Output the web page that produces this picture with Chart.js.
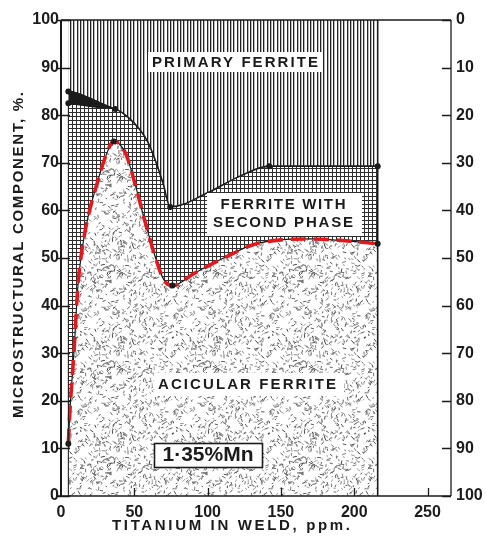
<!DOCTYPE html>
<html>
<head>
<meta charset="utf-8">
<script src="https://cdn.jsdelivr.net/npm/chart.js@4.4.1/dist/chart.umd.min.js"></script>
<style>
  html, body { margin: 0; padding: 0; background: #fff; }
  #wrap { width: 486px; height: 536px; }
</style>
</head>
<body>
<div id="wrap"><canvas id="chart" width="486" height="536"></canvas></div>
<script>
// Weld metal microstructure vs titanium content, 1.35 % Mn

// tick labels
const xTickLabels = [0, 50, 100, 150, 200, 250];
const yTickLabels = [0, 10, 20, 30, 40, 50, 60, 70, 80, 90, 100];

// extent of the measured band (ppm Ti)
const regionTi = [5, 216];
const primaryTopPct = [100, 100];

// acicular ferrite / ferrite-with-second-phase boundary
const acicularTi  = [5, 6, 9, 11.5, 14, 18, 24, 30, 36, 44, 51, 57, 63.5, 70, 76, 91, 113, 131, 150, 170, 195, 216];
const acicularPct = [11, 17.4, 31, 44, 51, 58, 65, 71, 74.5, 72, 65, 58, 51, 45.5, 44.2, 46.8, 50.3, 52.8, 53.8, 54, 53.6, 53];

// ferrite-with-second-phase / primary ferrite boundary
const secondTopTi  = [5, 15, 25, 37, 46, 53.7, 59, 63.4, 69.6, 74.5, 100, 122, 142, 216];
const secondTopPct = [82.5, 82.1, 81.7, 81.3, 79.5, 77, 74.5, 71.3, 65.7, 60.7, 63.7, 67.2, 69.3, 69.3];

// dark wedge at low Ti
const wedgeTi  = [5, 12, 20, 28, 37];
const wedgePct = [85.2, 84.6, 83.6, 82.5, 81.3];

// measured points
const markerTi  = [5, 5, 37, 74.5, 142, 216, 5, 36, 76, 216];
const markerPct = [85, 82.5, 81.3, 60.7, 69.3, 69.3, 11, 74.5, 44.2, 53];

const ink = '#1b1b1b';
const red = '#e3171c';
const FONT = "'Liberation Sans', Arial, Helvetica, sans-serif";

const pts = (xs, ys) => xs.map((x, i) => ({ x: x, y: ys[i] }));

// --- fill textures ---
function makePattern(w, h, paint) {
    const c = document.createElement('canvas');
    c.width = w; c.height = h;
    const g = c.getContext('2d');
    g.fillStyle = '#fff';
    g.fillRect(0, 0, w, h);
    paint(g, w, h);
    return document.getElementById('chart').getContext('2d').createPattern(c, 'repeat');
}

const hatch = makePattern(10, 1, g => {
    g.fillStyle = '#222';
    [0, 3, 7].forEach(x => g.fillRect(x, 0, 1, 1));
    g.fillStyle = '#b8b8b8';
    [1, 4, 8].forEach(x => g.fillRect(x, 0, 1, 1));
});

const grid = makePattern(4, 4, g => {
    g.fillStyle = '#2e2e2e';
    g.fillRect(0, 0, 4, 1);
    g.fillRect(0, 0, 1, 4);
});

function mulberry32(a) {
    return function() {
        a |= 0; a = a + 0x6D2B79F5 | 0;
        let t = Math.imul(a ^ a >>> 15, 1 | a);
        t = t + Math.imul(t ^ t >>> 7, 61 | t) ^ t;
        return ((t ^ t >>> 14) >>> 0) / 4294967296;
    };
}

const speckle = makePattern(96, 96, (g, w, h) => {
    const rnd = mulberry32(1979);
    g.lineWidth = 1;
    g.lineCap = 'butt';
    for (let i = 0; i < 620; i++) {
        const x = rnd() * w, y = rnd() * h;
        const a = rnd() * Math.PI;
        const len = 1.5 + rnd() * 2.8;
        const shade = Math.floor(70 + rnd() * 100);
        g.strokeStyle = `rgb(${shade},${shade},${shade})`;
        const dx = Math.cos(a) * len / 2, dy = Math.sin(a) * len / 2;
        for (const ox of [-w, 0, w]) {
            for (const oy of [-h, 0, h]) {
                g.beginPath();
                g.moveTo(x + ox - dx, y + oy - dy);
                g.lineTo(x + ox + dx, y + oy + dy);
                g.stroke();
            }
        }
    }
});

// --- frame, inward ticks, region labels, axis titles ---
const framePlugin = {
    id: 'frame',
    afterDatasetsDraw(chart) {
        const { ctx, chartArea: a, scales } = chart;
        ctx.save();
        ctx.strokeStyle = ink;
        ctx.lineWidth = 1.3;
        ctx.beginPath();
        ctx.moveTo(a.left, a.top); ctx.lineTo(a.right, a.top);
        ctx.moveTo(a.right, a.top); ctx.lineTo(a.right, a.bottom);
        ctx.moveTo(a.left - 4, a.bottom); ctx.lineTo(a.right, a.bottom);
        ctx.stroke();
        ctx.lineWidth = 2;
        ctx.beginPath();
        ctx.moveTo(a.left, a.top); ctx.lineTo(a.left, a.bottom);
        ctx.stroke();

        ctx.lineWidth = 1.3;
        ctx.beginPath();
        scales.y.ticks.forEach(t => {
            const py = Math.round(scales.y.getPixelForValue(t.value)) + 0.5;
            ctx.moveTo(a.left - 3, py); ctx.lineTo(a.left + 9, py);
        });
        scales.y2.ticks.forEach(t => {
            const py = Math.round(scales.y2.getPixelForValue(t.value)) + 0.5;
            ctx.moveTo(a.right - 9, py); ctx.lineTo(a.right, py);
        });
        scales.x.ticks.forEach(t => {
            if (t.value === 0) return;
            const px = Math.round(scales.x.getPixelForValue(t.value)) + 0.5;
            ctx.moveTo(px, a.bottom); ctx.lineTo(px, a.bottom - 8);
        });
        ctx.stroke();
        ctx.restore();
    }
};

// spreads letters so a string covers a given width
function spacedText(ctx, text, cx, cy, width) {
    ctx.letterSpacing = '0px';
    const natural = ctx.measureText(text).width;
    const sp = Math.max(0, (width - natural) / (text.length - 1));
    ctx.letterSpacing = `${sp}px`;
    ctx.fillText(text, cx + sp / 2, cy);
    ctx.letterSpacing = '0px';
}

const regionLabels = [
    { box: [148, 52, 174, 20], lines: ['PRIMARY FERRITE'], x: 235, y: [62.5], w: [166], size: 15 },
    { box: [207, 193, 155, 43], lines: ['FERRITE WITH', 'SECOND PHASE'], x: 283, y: [205, 223], w: [125, 140], size: 15 },
    { box: [154, 373, 190, 23], lines: ['ACICULAR FERRITE'], x: 247, y: [385], w: [178], size: 15 },
    { box: [154, 443, 108, 24], lines: ['1·35%Mn'], x: 208, y: [455.5], w: [0], size: 21, border: true }
];

const labelPlugin = {
    id: 'labels',
    afterDatasetsDraw(chart) {
        const ctx = chart.ctx;
        ctx.save();
        regionLabels.forEach(l => {
            const [bx, by, bw, bh] = l.box;
            ctx.fillStyle = '#fff';
            ctx.fillRect(bx, by, bw, bh);
            if (l.border) {
                ctx.strokeStyle = ink;
                ctx.lineWidth = 1.6;
                ctx.strokeRect(bx + 0.5, by + 0.5, bw, bh);
            }
            ctx.fillStyle = ink;
            ctx.font = `bold ${l.size}px ${FONT}`;
            ctx.textAlign = 'center';
            ctx.textBaseline = 'middle';
            l.lines.forEach((s, i) => spacedText(ctx, s, l.x, l.y[i], l.w[i]));
        });
        ctx.restore();
    },
    afterDraw(chart) {
        const { ctx, chartArea: a } = chart;
        ctx.save();
        ctx.fillStyle = ink;
        ctx.font = `bold 15px ${FONT}`;
        ctx.textAlign = 'center';
        ctx.textBaseline = 'middle';
        spacedText(ctx, 'TITANIUM IN WELD, ppm.', 231, 526, 238);
        ctx.translate(19, 255);
        ctx.rotate(-Math.PI / 2);
        spacedText(ctx, 'MICROSTRUCTURAL COMPONENT, %.', 0, 0, 326);
        ctx.restore();
    }
};

const tickFont = { family: FONT, size: 16, weight: 'bold' };

new Chart(document.getElementById('chart'), {
    type: 'line',
    data: {
        datasets: [
            { label: 'Primary ferrite', data: pts(regionTi, primaryTopPct), fill: 'origin',
              backgroundColor: hatch, borderWidth: 0, pointRadius: 0, order: 6 },
            { label: 'Wedge', data: pts(wedgeTi, wedgePct), fill: 'origin', backgroundColor: ink,
              borderColor: ink, borderWidth: 1, pointRadius: 0, cubicInterpolationMode: 'monotone', order: 5 },
            { label: 'Ferrite with second phase', data: pts(secondTopTi, secondTopPct), fill: 'origin',
              backgroundColor: grid, borderColor: ink, borderWidth: 1.6, pointRadius: 0,
              cubicInterpolationMode: 'monotone', order: 4 },
            { label: 'Acicular ferrite', data: pts(acicularTi, acicularPct), fill: 'origin',
              backgroundColor: speckle, borderColor: ink, borderWidth: 1.2, pointRadius: 0,
              cubicInterpolationMode: 'monotone', order: 3 },
            { label: 'Acicular boundary', data: pts(acicularTi, acicularPct), fill: false,
              borderColor: red, borderWidth: 3.6, borderDash: [15, 8], pointRadius: 0,
              cubicInterpolationMode: 'monotone', order: 2 },
            { label: 'Left edge', data: pts([regionTi[0], regionTi[0]], [0, secondTopPct[0]]), fill: false,
              borderColor: ink, borderWidth: 1, pointRadius: 0, order: 1 },
            { label: 'Right edge', data: pts([regionTi[1], regionTi[1]], [0, 100]), fill: false,
              borderColor: ink, borderWidth: 1.6, pointRadius: 0, order: 1 },
            { label: 'Measured', data: pts(markerTi, markerPct), showLine: false,
              pointRadius: 3, pointBackgroundColor: ink, pointBorderWidth: 0, order: 0 }
        ]
    },
    options: {
        responsive: false,
        animation: false,
        events: [],
        layout: { padding: { top: 20, left: 0, right: 0, bottom: 0 } },
        plugins: { legend: { display: false }, tooltip: { enabled: false } },
        scales: {
            x: {
                type: 'linear', min: 0, max: 266,
                afterBuildTicks: s => { s.ticks = xTickLabels.map(v => ({ value: v })); },
                afterFit: s => { s.height = 40; },
                grid: { display: false, drawTicks: false },
                border: { display: false },
                ticks: { font: tickFont, color: ink, padding: 7, maxRotation: 0 }
            },
            y: {
                position: 'left', min: 0, max: 100,
                afterBuildTicks: s => { s.ticks = yTickLabels.map(v => ({ value: v })); },
                afterFit: s => { s.width = 61; },
                grid: { display: false, drawTicks: false },
                border: { display: false },
                ticks: { font: tickFont, color: ink, padding: 2 }
            },
            y2: {
                position: 'right', min: 0, max: 100, reverse: true,
                afterBuildTicks: s => { s.ticks = yTickLabels.map(v => ({ value: v })); },
                afterFit: s => { s.width = 35; },
                grid: { display: false, drawTicks: false },
                border: { display: false },
                ticks: { font: tickFont, color: ink, padding: 5 }
            }
        }
    },
    plugins: [framePlugin, labelPlugin]
});
</script>
</body>
</html>
